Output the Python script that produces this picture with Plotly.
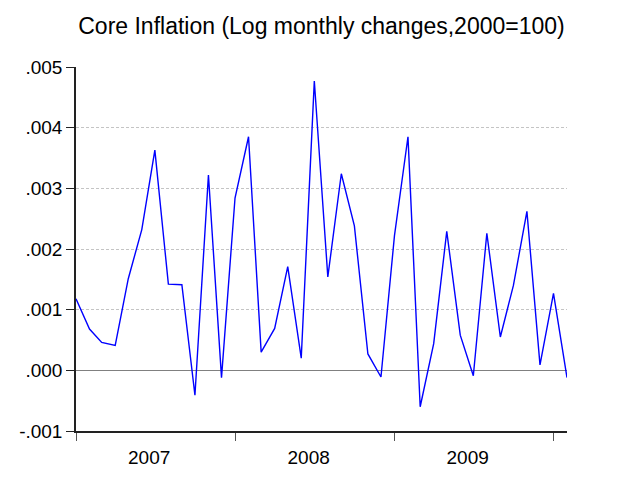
import plotly.graph_objects as go
import pandas as pd

months = pd.date_range("2007-01-01", periods=38, freq="MS")
values = [0.00118, 0.00068, 0.00046, 0.00041, 0.00151, 0.00232, 0.00363, 0.00142,
          0.00141, -0.00041, 0.00322, -0.00012, 0.00284, 0.00385, 0.00030, 0.00069,
          0.00171, 0.00020, 0.00477, 0.00154, 0.00324, 0.00238, 0.00027, -0.00011,
          0.00222, 0.00385, -0.00060, 0.00044, 0.00229, 0.00058, -0.00009, 0.00226,
          0.00055, 0.00140, 0.00262, 0.00009, 0.00127, -0.00012]
year_labels = ["2007", "2008", "2009"]
year_label_pos = ["2007-06-18", "2008-06-18", "2009-06-18"]
year_bounds = ["2007-01-01", "2008-01-01", "2009-01-01", "2010-01-01"]
y_tickvals = [-0.001, 0.0, 0.001, 0.002, 0.003, 0.004, 0.005]
y_ticktext = ["-.001", ".000", ".001", ".002", ".003", ".004", ".005"]
title_text = "Core Inflation (Log monthly changes,2000=100)"

fig = go.Figure()
fig.add_trace(go.Scatter(x=months, y=values, mode="lines",
                         line=dict(color="#0000ff", width=1.4),
                         showlegend=False, hoverinfo="skip"))

fig.update_layout(
    width=632, height=480,
    margin=dict(l=76, r=65, t=67, b=45),
    paper_bgcolor="white", plot_bgcolor="white",
    font=dict(family="Liberation Sans, Arial", color="black"),
    title=dict(text=title_text, x=0.5, xref="paper", xanchor="center",
               y=1 - 26 / 480, yref="container", yanchor="middle",
               font=dict(size=23, color="black")),
)
fig.update_xaxes(
    type="date", range=[months[0], months[-1]],
    tickvals=year_label_pos, ticktext=year_labels,
    ticks="outside", ticklen=8, tickcolor="rgba(0,0,0,0)", tickwidth=1,
    minor=dict(tickvals=year_bounds, ticks="outside", ticklen=8,
               tickcolor="#555555", tickwidth=1, showgrid=False),
    showline=True, linecolor="#222222", linewidth=1.5,
    showgrid=False, zeroline=False,
    tickfont=dict(size=19, color="black"),
)
fig.update_yaxes(
    range=[-0.001, 0.005], tickvals=y_tickvals, ticktext=y_ticktext,
    ticks="outside", ticklen=8, tickcolor="#222222", tickwidth=1,
    showline=True, linecolor="#222222", linewidth=1.5,
    showgrid=True, gridcolor="#c4c4c4", griddash="3px,2px", gridwidth=1,
    zeroline=True, zerolinecolor="#808080", zerolinewidth=1.2,
    tickfont=dict(size=19, color="black"),
)

fig.write_html("out.html")
